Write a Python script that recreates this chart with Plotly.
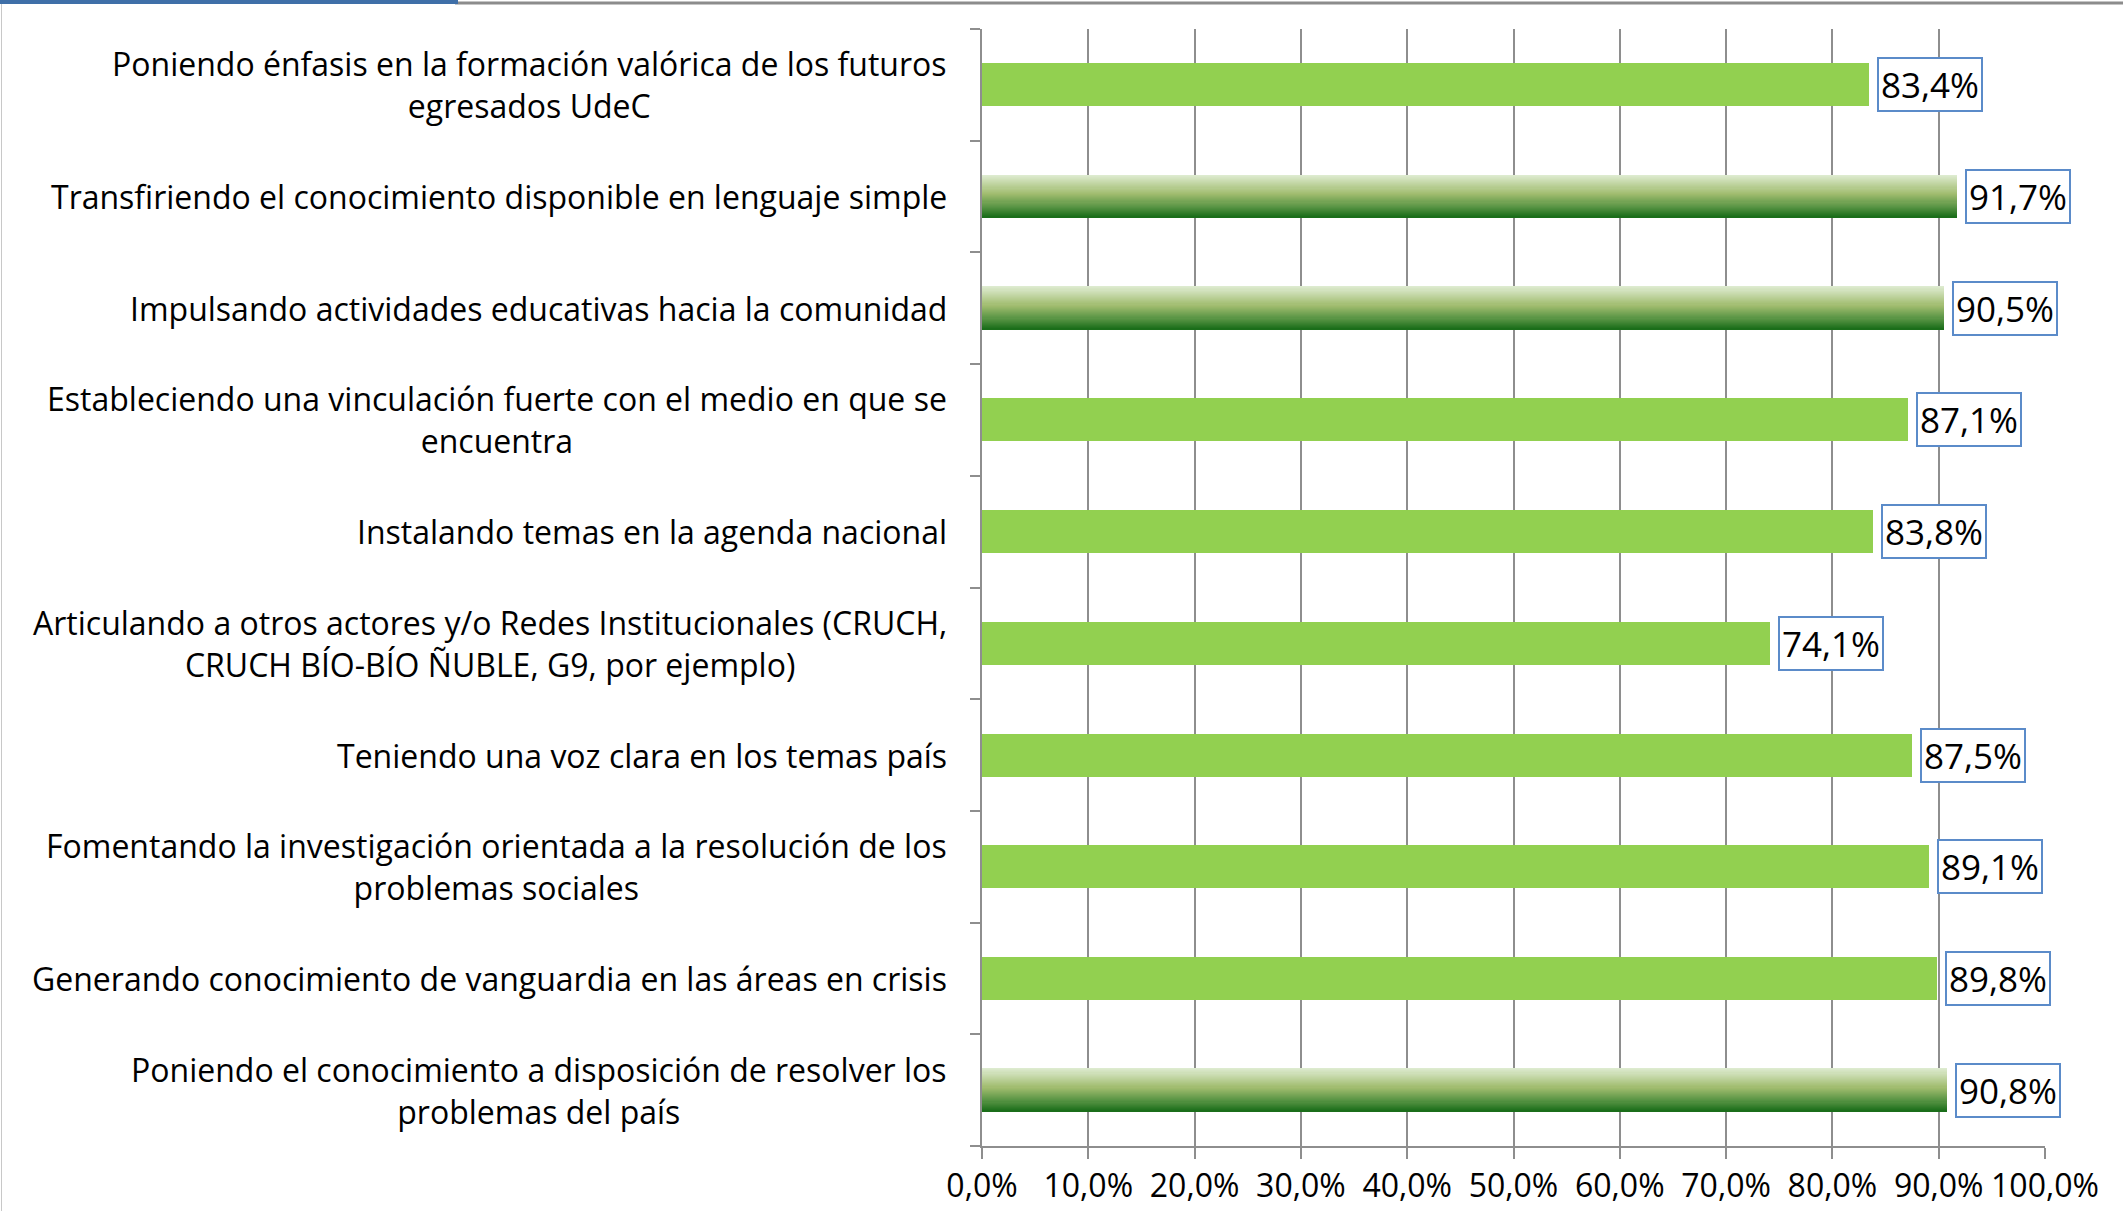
import plotly.graph_objects as go

categories = [
    "Poniendo énfasis en la formación valórica de los futuros<br>egresados UdeC",
    "Transfiriendo el conocimiento disponible en lenguaje simple",
    "Impulsando actividades educativas hacia la comunidad",
    "Estableciendo una vinculación fuerte con el medio en que se<br>encuentra",
    "Instalando temas en la agenda nacional",
    "Articulando a otros actores y/o Redes Institucionales (CRUCH,<br>CRUCH BÍO-BÍO ÑUBLE, G9, por ejemplo)",
    "Teniendo una voz clara en los temas país",
    "Fomentando la investigación orientada a la resolución de los<br>problemas sociales",
    "Generando conocimiento de vanguardia en las áreas en crisis",
    "Poniendo el conocimiento a disposición de resolver los<br>problemas del país",
]
values = [83.4, 91.7, 90.5, 87.1, 83.8, 74.1, 87.5, 89.1, 89.8, 90.8]
value_labels = ["83,4%", "91,7%", "90,5%", "87,1%", "83,8%", "74,1%", "87,5%", "89,1%", "89,8%", "90,8%"]
x_ticks = [0, 10, 20, 30, 40, 50, 60, 70, 80, 90, 100]
x_ticktext = ["0,0%", "10,0%", "20,0%", "30,0%", "40,0%", "50,0%", "60,0%", "70,0%", "80,0%", "90,0%", "100,0%"]

FONT = "Open Sans"
W, H = 2123, 1211
L, R, T, B = 982, 78, 29, 65
BAR_W = 0.385
SOLID = "#92D050"

# top three values get the gradient fill
top3 = sorted(range(len(values)), key=lambda i: values[i], reverse=True)[:3]
ypos = list(range(len(categories)))

stops = [(0.0, (223, 236, 210)), (0.45, (160, 188, 110)), (0.75, (88, 148, 68)), (1.0, (24, 108, 24))]
def grad(t):
    for (a, ca), (b, cb) in zip(stops[:-1], stops[1:]):
        if a <= t <= b:
            f = (t - a) / (b - a)
            c = [round(ca[j] + (cb[j] - ca[j]) * f) for j in range(3)]
            return "rgb(%d,%d,%d)" % tuple(c)
    return "rgb(%d,%d,%d)" % stops[-1][1]

fig = go.Figure()
solid_idx = [i for i in ypos if i not in top3]
fig.add_trace(go.Bar(
    y=[ypos[i] for i in solid_idx], x=[values[i] for i in solid_idx],
    orientation="h", width=BAR_W, marker=dict(color=SOLID, line=dict(width=0)),
    hoverinfo="skip", showlegend=False))

N = 40
for k in range(N):
    fig.add_trace(go.Bar(
        y=[ypos[i] for i in top3], x=[values[i] for i in top3],
        orientation="h", width=BAR_W / N * 1.15, offset=-BAR_W / 2 + k * BAR_W / N,
        marker=dict(color=grad((k + 0.5) / N), line=dict(width=0)),
        hoverinfo="skip", showlegend=False))

annotations = []
for i, (c, v, lab) in enumerate(zip(categories, values, value_labels)):
    annotations.append(dict(
        x=0, xref="paper", y=ypos[i], yref="y", xanchor="right", yanchor="middle",
        xshift=-33, text=c, showarrow=False, align="center",
        font=dict(family=FONT, size=32, color="#000000")))
    annotations.append(dict(
        x=v, xref="x", y=ypos[i], yref="y", xanchor="left", yanchor="middle",
        xshift=8, text=lab, showarrow=False, bgcolor="white",
        bordercolor="#5B8BC9", borderwidth=2, borderpad=2,
        font=dict(family=FONT, size=35, color="#000000")))

pw = W - L - R
ph = H - T - B
shapes = [
    dict(type="line", xref="paper", yref="paper", x0=(455 - L) / pw, x1=(W - L) / pw,
         y0=(H - B - 3) / ph, y1=(H - B - 3) / ph, line=dict(color="#8C8C8C", width=3)),
    dict(type="line", xref="paper", yref="paper", x0=(0 - L) / pw, x1=(458 - L) / pw,
         y0=(H - B - 2) / ph, y1=(H - B - 2) / ph, line=dict(color="#3F6FA8", width=4)),
    dict(type="line", xref="paper", yref="paper", x0=(1.5 - L) / pw, x1=(1.5 - L) / pw,
         y0=-B / ph, y1=(H - B - 4) / ph, line=dict(color="#C8C8C8", width=1)),
]

fig.update_layout(
    width=W, height=H, autosize=False,
    margin=dict(l=L, r=R, t=T, b=B, autoexpand=False),
    paper_bgcolor="white", plot_bgcolor="white",
    barmode="overlay", bargap=0,
    annotations=annotations, shapes=shapes,
    xaxis=dict(range=[0, 100], tickvals=x_ticks, ticktext=x_ticktext,
               tickangle=0, automargin=False,
               showgrid=True, gridcolor="#8E8E8E", gridwidth=2,
               showline=True, linecolor="#8E8E8E", linewidth=2,
               ticks="outside", ticklen=11, tickwidth=2, tickcolor="#8E8E8E",
               ticklabelstandoff=0, ticklabeloverflow="allow",
               tickfont=dict(family=FONT, size=32, color="#000000"),
               zeroline=False, fixedrange=True),
    yaxis=dict(range=[9.5, -0.5], tickvals=[y - 0.5 for y in ypos] + [9.5],
               ticktext=[""] * 11, showgrid=False, automargin=False,
               showline=True, linecolor="#8E8E8E", linewidth=2,
               ticks="outside", ticklen=10, tickwidth=2, tickcolor="#8E8E8E",
               zeroline=False, fixedrange=True),
)

fig.write_html("out.html", config={"displayModeBar": False},
               post_script="document.body.style.margin='0px';document.body.style.overflow='hidden';")
